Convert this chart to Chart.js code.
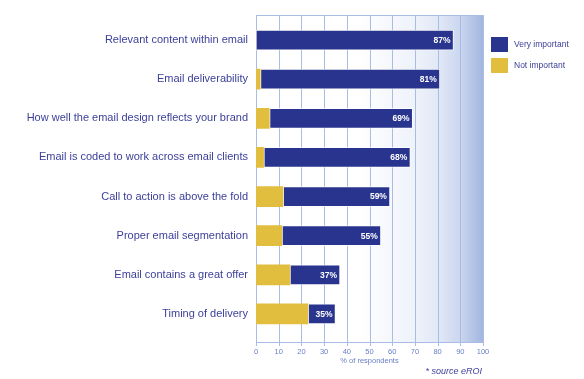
<!DOCTYPE html>
<html><head><meta charset="utf-8">
<script src="https://cdn.jsdelivr.net/npm/chart.js@4"></script>
<style>html,body{margin:0;padding:0;background:#fff}</style>
</head><body>
<canvas id="c" width="584" height="379"></canvas>
<script>
const categories = [
  'Relevant content within email',
  'Email deliverability',
  'How well the email design reflects your brand',
  'Email is coded to work across email clients',
  'Call to action is above the fold',
  'Proper email segmentation',
  'Email contains a great offer',
  'Timing of delivery'
];
const veryImportant = [87, 81, 69, 68, 59, 55, 37, 35];
const notImportant = [0, 2, 6, 3.5, 12, 11.5, 15, 23];
const xTicks = [0, 10, 20, 30, 40, 50, 60, 70, 80, 90, 100];
const seriesNames = ['Very important', 'Not important'];
const axisTitle = '% of respondents';
const sourceNote = '* source eROI';

const BLUE = '#28348d', YELLOW = '#e1be3d', TEXT = '#3b3f98', TICK = '#6a80c8', GRID = '#a9bce6';
const FONT = 'Liberation Sans, Arial, Helvetica, sans-serif';

const decor = {
  id: 'decor',
  beforeDatasetsDraw(chart) {
    const ctx = chart.ctx, x = chart.scales.x;
    const x0 = x.getPixelForValue(0), x1 = x.getPixelForValue(100);
    const top = 15, bot = 342;
    ctx.save();
    const g = ctx.createLinearGradient(x0, 0, x1, 0);
    g.addColorStop(0, '#ffffff');
    g.addColorStop(0.45, '#ffffff');
    g.addColorStop(0.7, '#eef2fa');
    g.addColorStop(0.8, '#e2e9f6');
    g.addColorStop(0.9, '#cbd6ef');
    g.addColorStop(1, '#a2b6e0');
    ctx.fillStyle = g;
    ctx.fillRect(x0, top, x1 - x0, bot - top);
    ctx.strokeStyle = GRID;
    ctx.lineWidth = 1;
    ctx.beginPath();
    xTicks.forEach(v => {
      const px = Math.round(x.getPixelForValue(v)) + 0.5;
      ctx.moveTo(px, top); ctx.lineTo(px, bot + 4);
    });
    ctx.moveTo(x0, top + 0.5); ctx.lineTo(x1, top + 0.5);
    ctx.moveTo(x0, bot + 0.5); ctx.lineTo(x1, bot + 0.5);
    ctx.stroke();
    ctx.restore();
  },
  afterDatasetsDraw(chart) {
    const ctx = chart.ctx;
    const meta = chart.getDatasetMeta(0);
    ctx.save();
    ctx.font = 'bold 8.5px ' + FONT;
    ctx.fillStyle = '#ffffff';
    ctx.textAlign = 'right';
    ctx.textBaseline = 'middle';
    meta.data.forEach((el, i) => {
      ctx.fillText(veryImportant[i] + '%', el.x - 3, el.y + 0.5);
    });
    ctx.restore();
  },
  afterDraw(chart) {
    const ctx = chart.ctx;
    ctx.save();
    const ds = chart.data.datasets;
    const items = [{y: 37}, {y: 58}];
    ctx.font = '8.5px ' + FONT;
    ctx.textBaseline = 'middle';
    ctx.textAlign = 'left';
    items.forEach((it, i) => {
      ctx.fillStyle = ds[i].backgroundColor;
      ctx.fillRect(491, it.y, 17, 15);
      ctx.fillStyle = TEXT;
      ctx.fillText(ds[i].label, 514, it.y + 7.5);
    });
    ctx.font = 'italic 9px ' + FONT;
    ctx.textAlign = 'right';
    ctx.fillText(sourceNote, 482, 371);
    ctx.restore();
  }
};

new Chart(document.getElementById('c'), {
  type: 'bar',
  data: {
    labels: categories,
    datasets: [
      {
        label: seriesNames[0],
        data: veryImportant.map((v, i) => [notImportant[i], v]),
        backgroundColor: BLUE,
        borderColor: 'rgba(255,255,255,0.7)',
        borderWidth: 1,
        borderSkipped: false,
        grouped: false,
        barThickness: 20
      },
      {
        label: seriesNames[1],
        data: notImportant.map(v => [0, v]),
        backgroundColor: YELLOW,
        borderWidth: 0,
        grouped: false,
        barThickness: 20
      }
    ]
  },
  options: {
    indexAxis: 'y',
    responsive: false,
    animation: false,
    layout: { padding: { left: 0, right: 101, top: 20.5, bottom: 0 } },
    plugins: { legend: { display: false }, tooltip: { enabled: false } },
    scales: {
      x: {
        min: 0, max: 100,
        afterBuildTicks(scale) { scale.ticks = xTicks.map(v => ({ value: v })); },
        afterFit(scale) { scale.height = 45.5; },
        grid: { display: false, drawTicks: false },
        border: { display: false },
        ticks: { color: TICK, font: { family: FONT, size: 7.5 }, padding: 13.5, maxRotation: 0 },
        title: { display: true, text: axisTitle, color: TICK, font: { family: FONT, size: 7.5 }, padding: { top: 0, bottom: 13.5 } }
      },
      y: {
        afterFit(scale) { scale.width = 256; },
        grid: { display: false, drawTicks: false },
        border: { display: true, color: GRID },
        ticks: { color: TEXT, font: { family: FONT, size: 11 }, padding: 8 }
      }
    }
  },
  plugins: [decor]
});
</script>
</body></html>
